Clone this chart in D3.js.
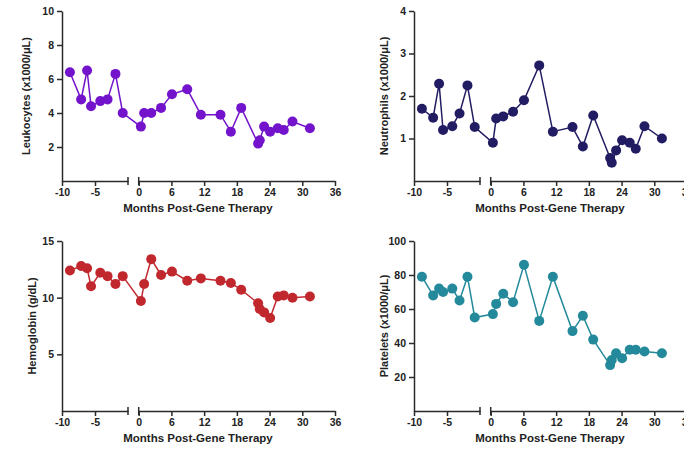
<!DOCTYPE html>
<html>
<head>
<meta charset="utf-8">
<script src="https://cdn.jsdelivr.net/npm/d3@7"></script>
<style>
  body { margin: 0; background: #fff; }
  svg text { font-family: "Liberation Sans", Arial, sans-serif; font-weight: bold; fill: #222; }
</style>
</head>
<body>
<svg id="chart" width="684" height="451"></svg>
<script>
// months relative to gene therapy
const preMonths  = [-8.8, -7.1, -6.2, -5.6, -4.2, -3.1, -1.9, -0.8];
const postMonths = [0.4, 1.0, 2.3, 4.1, 6.1, 8.9, 11.4, 15.0, 16.9, 18.8, 21.9, 22.2, 23.0, 24.1, 25.5, 26.6, 28.2, 31.4];

const preTicks  = [-10, -5];
const postTicks = [0, 6, 12, 18, 24, 30, 36];

const leukoPre  = [6.4, 4.8, 6.5, 4.4, 4.7, 4.8, 6.3, 4.0];
const leukoPost = [3.2, 4.0, 4.0, 4.3, 5.1, 5.4, 3.9, 3.9, 2.9, 4.3, 2.2, 2.4, 3.2, 2.9, 3.1, 3.0, 3.5, 3.1];

const neutroPre  = [1.70, 1.49, 2.29, 1.20, 1.29, 1.59, 2.25, 1.27];
const neutroPost = [0.90, 1.47, 1.52, 1.63, 1.90, 2.72, 1.16, 1.27, 0.81, 1.54, 0.54, 0.43, 0.72, 0.96, 0.90, 0.76, 1.29, 1.00];

const hgbPre  = [12.4, 12.8, 12.6, 11.0, 12.2, 11.9, 11.2, 11.9];
const hgbPost = [9.7, 11.2, 13.4, 12.0, 12.3, 11.5, 11.7, 11.5, 11.3, 10.7, 9.5, 9.0, 8.7, 8.2, 10.1, 10.2, 10.0, 10.1];

const pltPre  = [79, 68, 72, 70, 72, 65, 79, 55];
const pltPost = [57, 63, 69, 64, 86, 53, 79, 47, 56, 42, 27, 30, 34, 31, 36, 36, 35, 34];

const svg = d3.select("#chart");
const axisColor = "#2a2a2a";
const plain = d => String(d); // hyphen minus, no decimals

function styleAxis(a) {
  a.select(".domain").attr("stroke", axisColor).attr("stroke-width", 1.5);
  a.selectAll(".tick line").attr("stroke", axisColor).attr("stroke-width", 1.5);
  a.selectAll(".tick text").attr("font-size", "10.5px").attr("fill", "#222");
}

function drawPanel(o) {
  const g = svg.append("g").attr("transform", `translate(${o.x},${o.y})`);
  const H = 170;
  const xPre  = d3.scaleLinear().domain([-10, 0]).range([0, 66]);
  const xPost = d3.scaleLinear().domain([0, 36]).range([76.7, 273]);
  const y = d3.scaleLinear().domain([0, o.yMax]).range([H, 0]);
  const xOf = (m, pre) => pre ? xPre(m) : xPost(m);

  // y axis
  styleAxis(g.append("g")
    .call(d3.axisLeft(y).tickValues(o.yTicks).tickFormat(plain).tickSize(5).tickPadding(3).tickSizeOuter(0)));

  // x axis, two segments
  styleAxis(g.append("g").attr("transform", `translate(0,${H})`)
    .call(d3.axisBottom(xPre).tickValues(preTicks).tickFormat(plain).tickSize(5).tickPadding(3).tickSizeOuter(0)));
  styleAxis(g.append("g").attr("transform", `translate(0,${H})`)
    .call(d3.axisBottom(xPost).tickValues(postTicks).tickFormat(plain).tickSize(5).tickPadding(3).tickSizeOuter(0)));

  // break marks
  [xPre(0), xPost(0)].forEach(bx => {
    g.append("line").attr("x1", bx).attr("x2", bx).attr("y1", H - 4).attr("y2", H + 4)
      .attr("stroke", axisColor).attr("stroke-width", 1.5);
  });

  const pts = o.pre.map((v, i) => ({ x: xOf(preMonths[i], true), v }))
    .concat(o.post.map((v, i) => ({ x: xOf(postMonths[i], false), v })));

  g.append("path").datum(pts)
    .attr("d", d3.line().x(d => d.x).y(d => y(d.v)))
    .attr("fill", "none").attr("stroke", o.color).attr("stroke-width", 1.5);

  g.selectAll("circle.pt").data(pts).enter().append("circle")
    .attr("class", "pt")
    .attr("cx", d => d.x).attr("cy", d => y(d.v)).attr("r", 5)
    .attr("fill", o.color);

  g.append("text").attr("x", 136).attr("y", H + 31)
    .attr("text-anchor", "middle").attr("font-size", "11.5px")
    .text("Months Post-Gene Therapy");

  g.append("text")
    .attr("transform", `translate(${o.labelX},${H / 2}) rotate(-90)`)
    .attr("text-anchor", "middle").attr("dominant-baseline", "central")
    .attr("font-size", "11px")
    .text(o.label);
}

drawPanel({ x: 62, y: 11, yMax: 10, yTicks: [2, 4, 6, 8, 10], pre: leukoPre, post: leukoPost,
  color: "#7313cc", label: "Leukocytes (x1000/\u03bcL)", labelX: -36 });
drawPanel({ x: 414, y: 11, yMax: 4, yTicks: [1, 2, 3, 4], pre: neutroPre, post: neutroPost,
  color: "#221c62", label: "Neutrophils (x1000/\u03bcL)", labelX: -30 });
drawPanel({ x: 62, y: 241, yMax: 15, yTicks: [5, 10, 15], pre: hgbPre, post: hgbPost,
  color: "#c1282e", label: "Hemoglobin (g/dL)", labelX: -30 });
drawPanel({ x: 414, y: 241, yMax: 100, yTicks: [20, 40, 60, 80, 100], pre: pltPre, post: pltPost,
  color: "#248a9b", label: "Platelets (x1000/\u03bcL)", labelX: -30 });
</script>
</body>
</html>
